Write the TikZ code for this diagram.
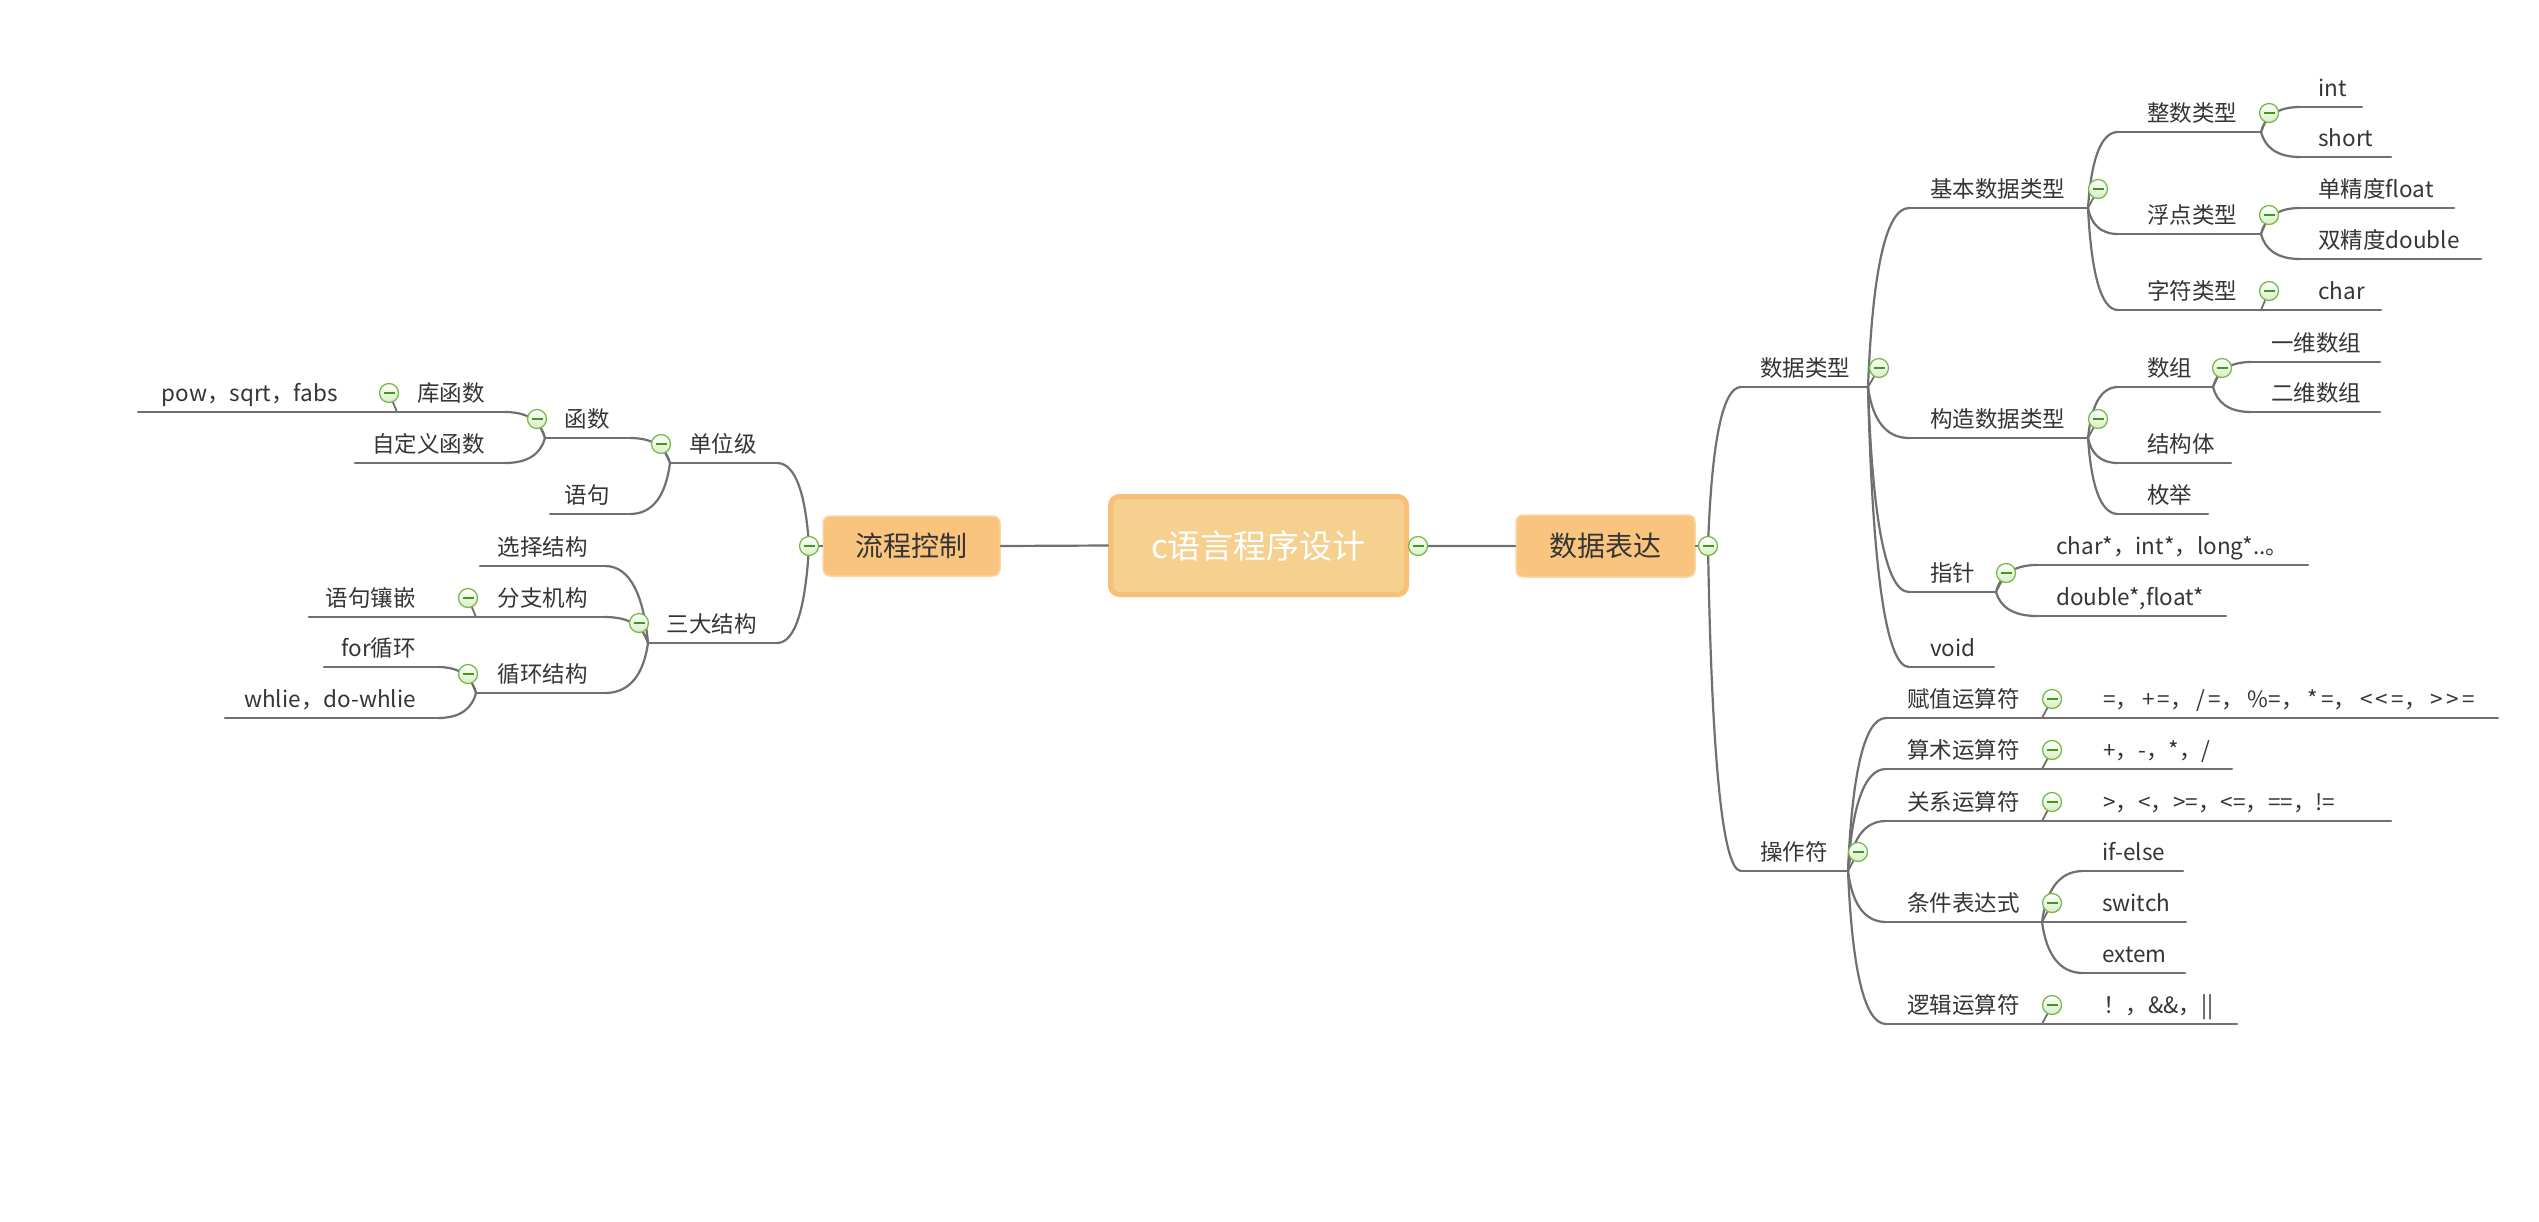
\documentclass[tikz,border=0pt]{standalone}
\usepackage{fontspec}
\newfontfamily\cjk{Noto Sans CJK SC}
\usetikzlibrary{calc}
\definecolor{txt}{HTML}{353535}
\definecolor{lnc}{HTML}{707070}
\definecolor{cfill}{HTML}{F5D08E}
\definecolor{cbord}{HTML}{F7BF78}
\definecolor{sfill}{HTML}{F8C47E}
\definecolor{sbord}{HTML}{FAD6A4}
\definecolor{gborder}{HTML}{78BA48}
\definecolor{gfill}{HTML}{D9EDC9}
\definecolor{gminus}{HTML}{3F9A1C}
\newcommand\ks{\kern3.2pt}
\newcommand\kc{\kern4pt}
\tikzset{
  lbl/.style={inner sep=0pt, font=\cjk\fontsize{22.5}{27}\selectfont, text=txt},
  ln/.style={draw=lnc, line width=2.2pt, line cap=round},
  coll/.style={circle, minimum size=19pt, inner sep=0pt, draw=gborder, line width=1.3pt, top color=white, bottom color=gfill},
  mn/.style={draw=gminus, line width=1.5pt},
  cbox/.style={rounded corners=9pt, fill=cfill, draw=cbord, line width=5pt, minimum width=296pt, minimum height=98pt, inner sep=0pt, font=\cjk\fontsize{33}{38}\selectfont, text=white},
  sbox/.style={rounded corners=7pt, fill=sfill, draw=sbord, line width=1.5pt, inner sep=0pt, font=\cjk\fontsize{28}{33}\selectfont, text=txt}
}
% right-side node: name, text x, underline y, underline x0, x1, text
\newcommand\Rn[6]{%
  \coordinate (#1-l) at (#4,#3); \coordinate (#1-r) at (#5,#3);
  \node[lbl,anchor=base west] (#1) at (#2,#3-11) {#6};
  \draw[ln] (#1-l) -- (#1-r);}
% left-side node
\newcommand\Ln[6]{%
  \coordinate (#1-l) at (#4,#3); \coordinate (#1-r) at (#5,#3);
  \node[lbl,anchor=base east] (#1) at (#2,#3-11) {#6};
  \draw[ln] (#1-l) -- (#1-r);}
% curved connector
\newcommand\cv[2]{\draw[ln] let \p1=(#1), \p2=(#2) in (\p1) .. controls ({\x1+0.1*(\x2-\x1)},{\y1+0.6*(\y2-\y1)}) and ({\x2-0.6*(\x2-\x1)},\y2) .. (\p2);}
% collapse circle
\newcommand\Cc[1]{\node[coll] (#1n) at (#1) {}; \draw[mn] ([xshift=-5.5pt]#1n.center) -- ([xshift=5.5pt]#1n.center);}
\begin{document}
\begin{tikzpicture}[x=1pt,y=-1pt]
\path[use as bounding box, fill=white] (0,0) rectangle (2539,1221);

% main boxes
\node[cbox] (center) at (1258.5,545.5) {c语言程序设计};
\node[sbox, minimum width=179pt, minimum height=62pt] (dec) at (1605.5,546) {数据表达};
\node[sbox, minimum width=177pt, minimum height=60pt] (flow) at (911.5,546) {流程控制};
\coordinate (cen-c) at (1418,546);
\coordinate (dec-c) at (1708,546);
\coordinate (flow-c) at (809,546);
\draw[ln] (flow.east) -- (center.west);
\draw[ln] (center.east) -- (cen-c) -- (dec.west);
\draw[ln] (dec.east) -- (dec-c);
\draw[ln] (flow.west) -- (flow-c);

% ---------- right side ----------
\Rn{dtype}{1760}{387}{1741}{1868}{数据类型}
\Rn{ops}{1760}{871}{1741}{1848}{操作符}
\Rn{basic}{1930}{208}{1909}{2088}{基本数据类型}
\Rn{cons}{1930}{438}{1909}{2088}{构造数据类型}
\Rn{ptr}{1930}{592}{1909}{1996}{指针}
\Rn{void}{1930}{667}{1909}{1994}{void}
\Rn{intt}{2147}{132}{2118}{2261}{整数类型}
\Rn{flt}{2147}{234}{2118}{2261}{浮点类型}
\Rn{chr}{2147}{310}{2118}{2261}{字符类型}
\Rn{int}{2318}{107}{2300}{2362}{int}
\Rn{short}{2318}{157}{2300}{2391}{short}
\Rn{sf}{2318}{208}{2300}{2454}{单精度float}
\Rn{df}{2318}{259}{2300}{2481}{双精度double}
\Rn{char}{2318}{310}{2300}{2381}{char}
\Rn{arr}{2147}{387}{2118}{2213}{数组}
\Rn{stc}{2147}{463}{2118}{2231}{结构体}
\Rn{enm}{2147}{514}{2118}{2208}{枚举}
\Rn{aone}{2271}{362}{2251}{2380}{一维数组}
\Rn{atwo}{2271}{412}{2251}{2380}{二维数组}
\Rn{pone}{2056}{565}{2037}{2308}{char*，int*，long*..。}
\Rn{ptwo}{2056}{616}{2037}{2226}{double*,float*}
\Rn{asg}{1907}{718}{1886}{2042}{赋值运算符}
\Rn{asgv}{2103}{718}{2083}{2498}{=，\kc+\ks=，\kc/\ks=，\kc\%=，\kc*\ks=，\kc<\ks<\ks=，\kc>\ks>\ks=}
\Rn{ari}{1907}{769}{1886}{2042}{算术运算符}
\Rn{ariv}{2103}{769}{2083}{2232}{+，-，*，/}
\Rn{rel}{1907}{821}{1886}{2042}{关系运算符}
\Rn{relv}{2103}{821}{2083}{2391}{>，<，>=，<=，==，!=}
\Rn{cond}{1907}{922}{1886}{2042}{条件表达式}
\Rn{ife}{2102}{871}{2083}{2183}{if-else}
\Rn{sw}{2102}{922}{2083}{2186}{switch}
\Rn{ext}{2102}{973}{2083}{2185}{extem}
\Rn{lgc}{1907}{1024}{1886}{2042}{逻辑运算符}
\Rn{lgcv}{2103}{1024}{2083}{2237}{！，\&\&，||}

\cv{dec-c}{dtype-l}
\cv{dec-c}{ops-l}
\cv{dtype-r}{basic-l}
\cv{dtype-r}{cons-l}
\cv{dtype-r}{ptr-l}
\cv{dtype-r}{void-l}
\cv{basic-r}{intt-l}
\cv{basic-r}{flt-l}
\cv{basic-r}{chr-l}
\cv{intt-r}{int-l}
\cv{intt-r}{short-l}
\cv{flt-r}{sf-l}
\cv{flt-r}{df-l}
\draw[ln] (chr-r) -- (char-l);
\cv{cons-r}{arr-l}
\cv{cons-r}{stc-l}
\cv{cons-r}{enm-l}
\cv{arr-r}{aone-l}
\cv{arr-r}{atwo-l}
\cv{ptr-r}{pone-l}
\cv{ptr-r}{ptwo-l}
\cv{ops-r}{asg-l}
\cv{ops-r}{ari-l}
\cv{ops-r}{rel-l}
\cv{ops-r}{cond-l}
\cv{ops-r}{lgc-l}
\draw[ln] (asg-r) -- (asgv-l);
\draw[ln] (ari-r) -- (ariv-l);
\draw[ln] (rel-r) -- (relv-l);
\draw[ln] (lgc-r) -- (lgcv-l);
\cv{cond-r}{ife-l}
\draw[ln] (cond-r) -- (sw-l);
\cv{cond-r}{ext-l}

% ---------- left side ----------
\Ln{unit}{757}{463}{670}{777}{单位级}
\Ln{three}{757}{643}{648}{777}{三大结构}
\Ln{func}{610}{438}{545}{630}{函数}
\Ln{stmt}{610}{514}{550}{630}{语句}
\Ln{lib}{485}{412}{397}{505}{库函数}
\Ln{pow}{338}{412}{138}{360}{pow，sqrt，fabs}
\Ln{udf}{485}{463}{355}{505}{自定义函数}
\Ln{sel}{588}{566}{480}{605}{选择结构}
\Ln{br}{588}{617}{476}{605}{分支机构}
\Ln{nest}{416}{617}{309}{440}{语句镶嵌}
\Ln{loop}{588}{693}{476}{605}{循环结构}
\Ln{for}{416}{667}{324}{438}{for循环}
\Ln{wh}{416}{718}{225}{438}{whlie，do-whlie}

\cv{flow-c}{unit-r}
\cv{flow-c}{three-r}
\cv{unit-l}{func-r}
\cv{unit-l}{stmt-r}
\cv{func-l}{lib-r}
\cv{func-l}{udf-r}
\draw[ln] (lib-l) -- (pow-r);
\cv{three-l}{sel-r}
\cv{three-l}{br-r}
\cv{three-l}{loop-r}
\draw[ln] (br-l) -- (nest-r);
\cv{loop-l}{for-r}
\cv{loop-l}{wh-r}

% ---------- collapse circles ----------
\coordinate (dtype-c) at (1879,368);
\coordinate (ops-c) at (1858,852);
\coordinate (basic-c) at (2098,189);
\coordinate (cons-c) at (2098,419);
\coordinate (ptr-c) at (2006,573);
\coordinate (intt-c) at (2269,113);
\coordinate (flt-c) at (2269,215);
\coordinate (chr-c) at (2269,291);
\coordinate (arr-c) at (2222,368);
\coordinate (asg-c) at (2052,699);
\coordinate (ari-c) at (2052,750);
\coordinate (rel-c) at (2052,802);
\coordinate (cond-c) at (2052,903);
\coordinate (lgc-c) at (2052,1005);
\coordinate (unit-c) at (661,444);
\coordinate (three-c) at (639,623);
\coordinate (func-c) at (537,419);
\coordinate (lib-c) at (389,393);
\coordinate (br-c) at (468,598);
\coordinate (loop-c) at (468,674);

\foreach \n in {dtype,ops,basic,cons,ptr,intt,flt,chr,arr,asg,ari,rel,cond,lgc}
  {\draw[ln, line width=1.8pt] (\n-r) -- (\n-c);}
\foreach \n in {unit,three,func,lib,br,loop}
  {\draw[ln, line width=1.8pt] (\n-l) -- (\n-c);}

\foreach \n in {cen-c,dec-c,flow-c,dtype-c,ops-c,basic-c,cons-c,ptr-c,intt-c,flt-c,chr-c,arr-c,asg-c,ari-c,rel-c,cond-c,lgc-c,unit-c,three-c,func-c,lib-c,br-c,loop-c}
  {\Cc{\n}}
\end{tikzpicture}
\end{document}
